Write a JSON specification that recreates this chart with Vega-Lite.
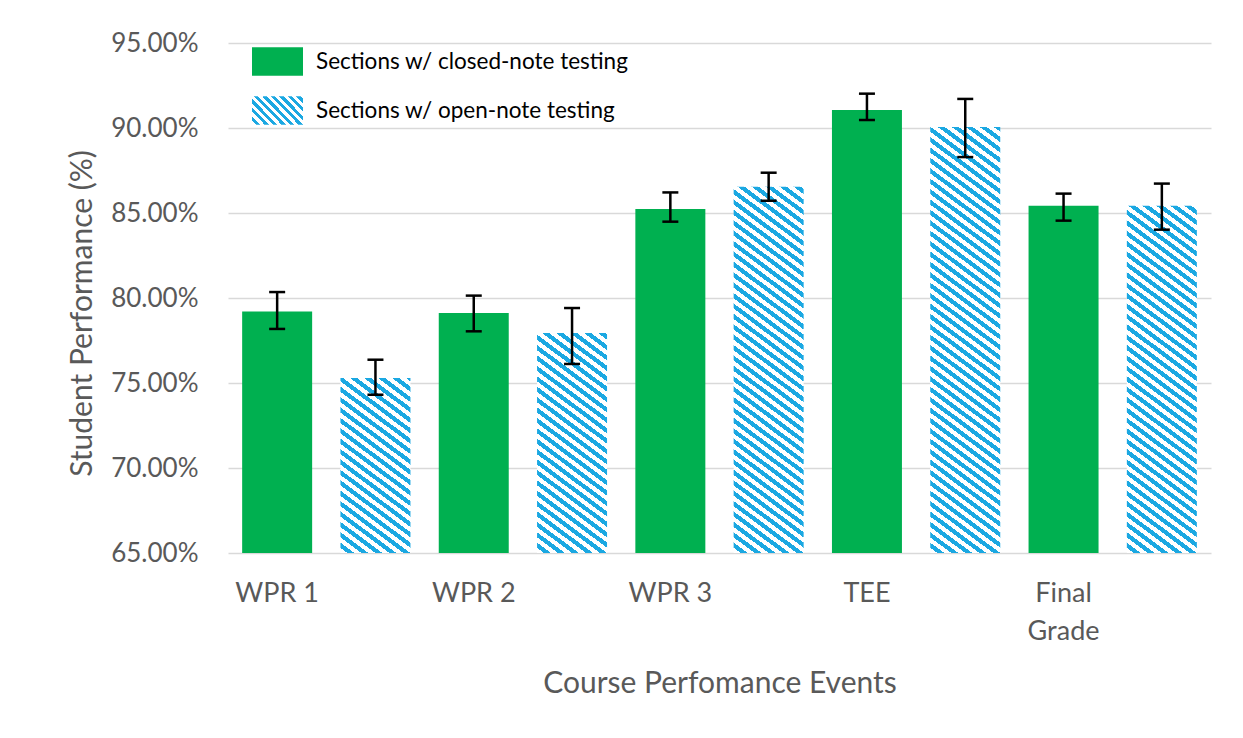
{
  "$schema": "https://vega.github.io/schema/vega-lite/v6.json",
  "width": 983,
  "height": 510,
  "autosize": {"type": "none"},
  "padding": {"left": 228, "top": 43, "right": 32, "bottom": 185},
  "background": "white",
  "params": [
    {"name": "stripeStops", "value": [
      {"offset":0,"color":"#fff"},{"offset":0.01,"color":"#fff"},{"offset":0.01,"color":"#1BA8E2"},{"offset":0.02,"color":"#1BA8E2"},
      {"offset":0.02,"color":"#fff"},{"offset":0.03,"color":"#fff"},{"offset":0.03,"color":"#1BA8E2"},{"offset":0.04,"color":"#1BA8E2"},
      {"offset":0.04,"color":"#fff"},{"offset":0.05,"color":"#fff"},{"offset":0.05,"color":"#1BA8E2"},{"offset":0.06,"color":"#1BA8E2"},
      {"offset":0.06,"color":"#fff"},{"offset":0.07,"color":"#fff"},{"offset":0.07,"color":"#1BA8E2"},{"offset":0.08,"color":"#1BA8E2"},
      {"offset":0.08,"color":"#fff"},{"offset":0.09,"color":"#fff"},{"offset":0.09,"color":"#1BA8E2"},{"offset":0.10,"color":"#1BA8E2"},
      {"offset":0.10,"color":"#fff"},{"offset":0.11,"color":"#fff"},{"offset":0.11,"color":"#1BA8E2"},{"offset":0.12,"color":"#1BA8E2"},
      {"offset":0.12,"color":"#fff"},{"offset":0.13,"color":"#fff"},{"offset":0.13,"color":"#1BA8E2"},{"offset":0.14,"color":"#1BA8E2"},
      {"offset":0.14,"color":"#fff"},{"offset":0.15,"color":"#fff"},{"offset":0.15,"color":"#1BA8E2"},{"offset":0.16,"color":"#1BA8E2"},
      {"offset":0.16,"color":"#fff"},{"offset":0.17,"color":"#fff"},{"offset":0.17,"color":"#1BA8E2"},{"offset":0.18,"color":"#1BA8E2"},
      {"offset":0.18,"color":"#fff"},{"offset":0.19,"color":"#fff"},{"offset":0.19,"color":"#1BA8E2"},{"offset":0.20,"color":"#1BA8E2"},
      {"offset":0.20,"color":"#fff"},{"offset":0.21,"color":"#fff"},{"offset":0.21,"color":"#1BA8E2"},{"offset":0.22,"color":"#1BA8E2"},
      {"offset":0.22,"color":"#fff"},{"offset":0.23,"color":"#fff"},{"offset":0.23,"color":"#1BA8E2"},{"offset":0.24,"color":"#1BA8E2"},
      {"offset":0.24,"color":"#fff"},{"offset":0.25,"color":"#fff"},{"offset":0.25,"color":"#1BA8E2"},{"offset":0.26,"color":"#1BA8E2"},
      {"offset":0.26,"color":"#fff"},{"offset":0.27,"color":"#fff"},{"offset":0.27,"color":"#1BA8E2"},{"offset":0.28,"color":"#1BA8E2"},
      {"offset":0.28,"color":"#fff"},{"offset":0.29,"color":"#fff"},{"offset":0.29,"color":"#1BA8E2"},{"offset":0.30,"color":"#1BA8E2"},
      {"offset":0.30,"color":"#fff"},{"offset":0.31,"color":"#fff"},{"offset":0.31,"color":"#1BA8E2"},{"offset":0.32,"color":"#1BA8E2"},
      {"offset":0.32,"color":"#fff"},{"offset":0.33,"color":"#fff"},{"offset":0.33,"color":"#1BA8E2"},{"offset":0.34,"color":"#1BA8E2"},
      {"offset":0.34,"color":"#fff"},{"offset":0.35,"color":"#fff"},{"offset":0.35,"color":"#1BA8E2"},{"offset":0.36,"color":"#1BA8E2"},
      {"offset":0.36,"color":"#fff"},{"offset":0.37,"color":"#fff"},{"offset":0.37,"color":"#1BA8E2"},{"offset":0.38,"color":"#1BA8E2"},
      {"offset":0.38,"color":"#fff"},{"offset":0.39,"color":"#fff"},{"offset":0.39,"color":"#1BA8E2"},{"offset":0.40,"color":"#1BA8E2"},
      {"offset":0.40,"color":"#fff"},{"offset":0.41,"color":"#fff"},{"offset":0.41,"color":"#1BA8E2"},{"offset":0.42,"color":"#1BA8E2"},
      {"offset":0.42,"color":"#fff"},{"offset":0.43,"color":"#fff"},{"offset":0.43,"color":"#1BA8E2"},{"offset":0.44,"color":"#1BA8E2"},
      {"offset":0.44,"color":"#fff"},{"offset":0.45,"color":"#fff"},{"offset":0.45,"color":"#1BA8E2"},{"offset":0.46,"color":"#1BA8E2"},
      {"offset":0.46,"color":"#fff"},{"offset":0.47,"color":"#fff"},{"offset":0.47,"color":"#1BA8E2"},{"offset":0.48,"color":"#1BA8E2"},
      {"offset":0.48,"color":"#fff"},{"offset":0.49,"color":"#fff"},{"offset":0.49,"color":"#1BA8E2"},{"offset":0.50,"color":"#1BA8E2"},
      {"offset":0.50,"color":"#fff"},{"offset":0.51,"color":"#fff"},{"offset":0.51,"color":"#1BA8E2"},{"offset":0.52,"color":"#1BA8E2"},
      {"offset":0.52,"color":"#fff"},{"offset":0.53,"color":"#fff"},{"offset":0.53,"color":"#1BA8E2"},{"offset":0.54,"color":"#1BA8E2"},
      {"offset":0.54,"color":"#fff"},{"offset":0.55,"color":"#fff"},{"offset":0.55,"color":"#1BA8E2"},{"offset":0.56,"color":"#1BA8E2"},
      {"offset":0.56,"color":"#fff"},{"offset":0.57,"color":"#fff"},{"offset":0.57,"color":"#1BA8E2"},{"offset":0.58,"color":"#1BA8E2"},
      {"offset":0.58,"color":"#fff"},{"offset":0.59,"color":"#fff"},{"offset":0.59,"color":"#1BA8E2"},{"offset":0.60,"color":"#1BA8E2"},
      {"offset":0.60,"color":"#fff"},{"offset":0.61,"color":"#fff"},{"offset":0.61,"color":"#1BA8E2"},{"offset":0.62,"color":"#1BA8E2"},
      {"offset":0.62,"color":"#fff"},{"offset":0.63,"color":"#fff"},{"offset":0.63,"color":"#1BA8E2"},{"offset":0.64,"color":"#1BA8E2"},
      {"offset":0.64,"color":"#fff"},{"offset":0.65,"color":"#fff"},{"offset":0.65,"color":"#1BA8E2"},{"offset":0.66,"color":"#1BA8E2"},
      {"offset":0.66,"color":"#fff"},{"offset":0.67,"color":"#fff"},{"offset":0.67,"color":"#1BA8E2"},{"offset":0.68,"color":"#1BA8E2"},
      {"offset":0.68,"color":"#fff"},{"offset":0.69,"color":"#fff"},{"offset":0.69,"color":"#1BA8E2"},{"offset":0.70,"color":"#1BA8E2"},
      {"offset":0.70,"color":"#fff"},{"offset":0.71,"color":"#fff"},{"offset":0.71,"color":"#1BA8E2"},{"offset":0.72,"color":"#1BA8E2"},
      {"offset":0.72,"color":"#fff"},{"offset":0.73,"color":"#fff"},{"offset":0.73,"color":"#1BA8E2"},{"offset":0.74,"color":"#1BA8E2"},
      {"offset":0.74,"color":"#fff"},{"offset":0.75,"color":"#fff"},{"offset":0.75,"color":"#1BA8E2"},{"offset":0.76,"color":"#1BA8E2"},
      {"offset":0.76,"color":"#fff"},{"offset":0.77,"color":"#fff"},{"offset":0.77,"color":"#1BA8E2"},{"offset":0.78,"color":"#1BA8E2"},
      {"offset":0.78,"color":"#fff"},{"offset":0.79,"color":"#fff"},{"offset":0.79,"color":"#1BA8E2"},{"offset":0.80,"color":"#1BA8E2"},
      {"offset":0.80,"color":"#fff"},{"offset":0.81,"color":"#fff"},{"offset":0.81,"color":"#1BA8E2"},{"offset":0.82,"color":"#1BA8E2"},
      {"offset":0.82,"color":"#fff"},{"offset":0.83,"color":"#fff"},{"offset":0.83,"color":"#1BA8E2"},{"offset":0.84,"color":"#1BA8E2"},
      {"offset":0.84,"color":"#fff"},{"offset":0.85,"color":"#fff"},{"offset":0.85,"color":"#1BA8E2"},{"offset":0.86,"color":"#1BA8E2"},
      {"offset":0.86,"color":"#fff"},{"offset":0.87,"color":"#fff"},{"offset":0.87,"color":"#1BA8E2"},{"offset":0.88,"color":"#1BA8E2"},
      {"offset":0.88,"color":"#fff"},{"offset":0.89,"color":"#fff"},{"offset":0.89,"color":"#1BA8E2"},{"offset":0.90,"color":"#1BA8E2"},
      {"offset":0.90,"color":"#fff"},{"offset":0.91,"color":"#fff"},{"offset":0.91,"color":"#1BA8E2"},{"offset":0.92,"color":"#1BA8E2"},
      {"offset":0.92,"color":"#fff"},{"offset":0.93,"color":"#fff"},{"offset":0.93,"color":"#1BA8E2"},{"offset":0.94,"color":"#1BA8E2"},
      {"offset":0.94,"color":"#fff"},{"offset":0.95,"color":"#fff"},{"offset":0.95,"color":"#1BA8E2"},{"offset":0.96,"color":"#1BA8E2"},
      {"offset":0.96,"color":"#fff"},{"offset":0.97,"color":"#fff"},{"offset":0.97,"color":"#1BA8E2"},{"offset":0.98,"color":"#1BA8E2"},
      {"offset":0.98,"color":"#fff"},{"offset":0.99,"color":"#fff"},{"offset":0.99,"color":"#1BA8E2"},{"offset":1,"color":"#1BA8E2"}
    ]}
  ],
  "data": {"values": [
    {"event": "WPR 1", "series": "Sections w/ closed-note testing", "score": 79.21, "lo": 78.18, "hi": 80.35},
    {"event": "WPR 1", "series": "Sections w/ open-note testing", "score": 75.29, "lo": 74.31, "hi": 76.37},
    {"event": "WPR 2", "series": "Sections w/ closed-note testing", "score": 79.12, "lo": 78.04, "hi": 80.14},
    {"event": "WPR 2", "series": "Sections w/ open-note testing", "score": 77.94, "lo": 76.12, "hi": 79.41},
    {"event": "WPR 3", "series": "Sections w/ closed-note testing", "score": 85.24, "lo": 84.49, "hi": 86.21},
    {"event": "WPR 3", "series": "Sections w/ open-note testing", "score": 86.55, "lo": 85.72, "hi": 87.37},
    {"event": "TEE", "series": "Sections w/ closed-note testing", "score": 91.06, "lo": 90.47, "hi": 92.02},
    {"event": "TEE", "series": "Sections w/ open-note testing", "score": 90.06, "lo": 88.29, "hi": 91.71},
    {"event": "Final Grade", "series": "Sections w/ closed-note testing", "score": 85.43, "lo": 84.55, "hi": 86.14},
    {"event": "Final Grade", "series": "Sections w/ open-note testing", "score": 85.43, "lo": 84.02, "hi": 86.73}
  ]},
  "encoding": {
    "x": {
      "field": "event", "type": "nominal",
      "sort": ["WPR 1", "WPR 2", "WPR 3", "TEE", "Final Grade"],
      "scale": {"paddingInner": 0, "paddingOuter": 0},
      "title": "Course Perfomance Events",
      "axis": {
        "labelOffset": -49.15,
        "labelAngle": 0,
        "labelAlign": "center",
        "labelBaseline": "top",
        "labelOverlap": false,
        "labelLineHeight": 38,
        "labelExpr": "datum.value == 'Final Grade' ? ['Final', 'Grade'] : datum.value"
      }
    },
    "xOffset": {
      "field": "series", "type": "nominal",
      "sort": ["Sections w/ closed-note testing", "Sections w/ open-note testing"],
      "scale": {"paddingInner": 0.288, "paddingOuter": 0.144}
    }
  },
  "layer": [
    {
      "transform": [{"filter": "datum.series == 'Sections w/ closed-note testing'"}],
      "mark": {"type": "bar"},
      "encoding": {
        "y": {"field": "score", "type": "quantitative", "stack": null, "title": "Student Performance (%)",
              "scale": {"domain": [65, 95], "zero": false, "nice": false},
              "axis": {"values": [65, 70, 75, 80, 85, 90, 95], "labelExpr": "format(datum.value, '.2f') + '%'", "titleY": 270}},
        "y2": {"datum": 65},
        "fill": {
          "field": "series", "type": "nominal",
          "scale": {
            "domain": ["Sections w/ closed-note testing", "Sections w/ open-note testing"],
            "range": ["#00B050", {"expr": "{gradient: 'linear', x1: 0, y1: 1, x2: 6.4, y2: -2.51, stops: stripeStops}"}]
          },
          "legend": {
            "title": null,
            "orient": "none",
            "legendX": 24,
            "legendY": -7,
            "symbolType": "M-1,-0.56H1V0.56H-1Z",
            "symbolSize": 2601,
            "symbolStrokeWidth": 0,
            "symbolOpacity": 1,
            "labelFont": "Lato",
            "labelFontSize": 22.5,
            "labelColor": "#000000",
            "labelOffset": 13,
            "labelLimit": 500,
            "rowPadding": 9
          }
        }
      }
    },
    {
      "transform": [{"filter": "datum.series == 'Sections w/ open-note testing'"}],
      "mark": {"type": "bar", "fill": {"expr": "{gradient: 'linear', x1: 0, y1: 1, x2: 50*bandwidth('xOffset')/14/(pow(bandwidth('xOffset')/14,2)+pow((scale('y',65)-scale('y',datum.score))/10.4,2)), y2: 1-50*(scale('y',65)-scale('y',datum.score))/10.4/(pow(bandwidth('xOffset')/14,2)+pow((scale('y',65)-scale('y',datum.score))/10.4,2)), stops: stripeStops}"}},
      "encoding": {
        "y": {"field": "score", "type": "quantitative", "stack": null, "title": "Student Performance (%)"},
        "y2": {"datum": 65}
      }
    },
    {
      "mark": {"type": "rule", "color": "#000000", "strokeWidth": 2.5},
      "encoding": {
        "y": {"field": "lo", "type": "quantitative", "title": "Student Performance (%)"},
        "y2": {"field": "hi"}
      }
    },
    {
      "mark": {"type": "tick", "color": "#000000", "size": 16, "thickness": 2.5, "opacity": 1},
      "encoding": {"y": {"field": "lo", "type": "quantitative", "title": "Student Performance (%)"}}
    },
    {
      "mark": {"type": "tick", "color": "#000000", "size": 16, "thickness": 2.5, "opacity": 1},
      "encoding": {"y": {"field": "hi", "type": "quantitative", "title": "Student Performance (%)"}}
    }
  ],
  "config": {
    "view": {"stroke": null},
    "font": "Lato",
    "axis": {
      "labelFont": "Lato", "titleFont": "Lato",
      "labelColor": "#595959", "titleColor": "#595959",
      "titleFontWeight": "normal", "ticks": false, "domain": false
    },
    "axisY": {
      "grid": true, "gridColor": "#D9D9D9", "gridWidth": 1.6,
      "labelFontSize": 26, "labelPadding": 30,
      "titleFontSize": 30, "titlePadding": 13
    },
    "axisX": {
      "grid": false,
      "labelFontSize": 27, "labelPadding": 27,
      "titleFontSize": 30, "titlePadding": 24
    }
  }
}
